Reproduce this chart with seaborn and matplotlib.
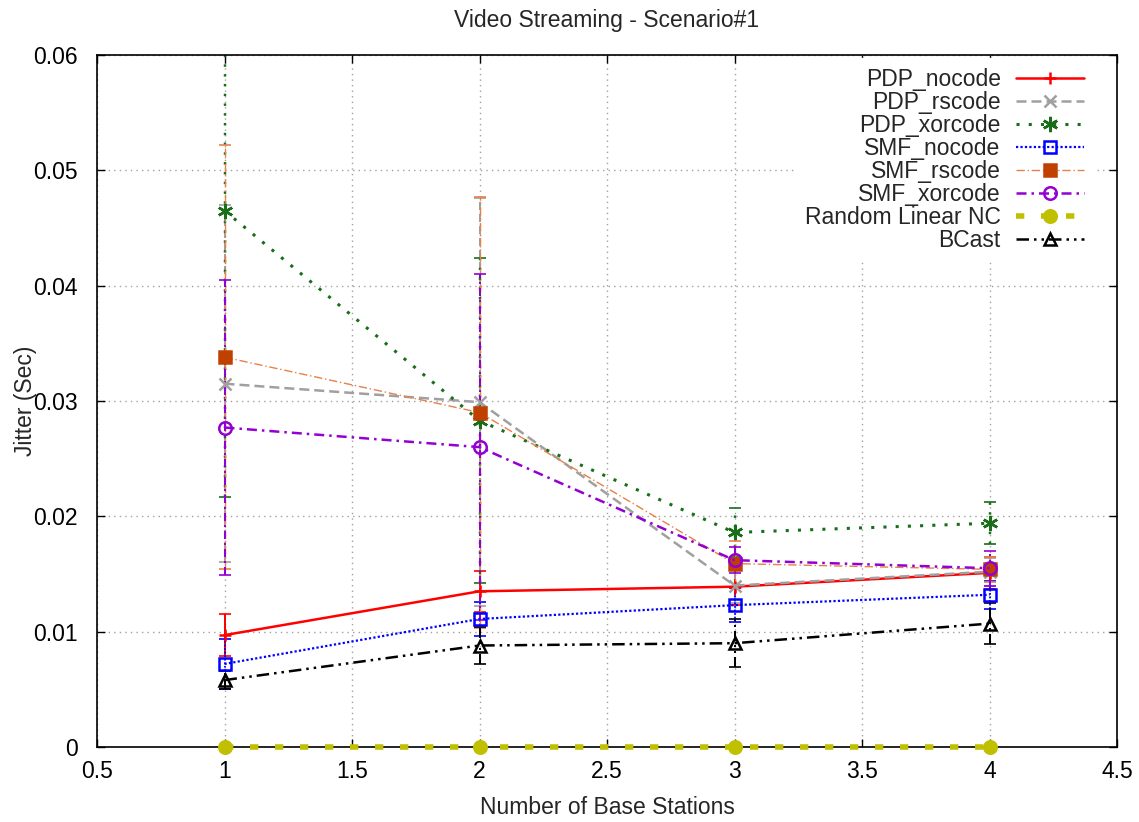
import matplotlib
matplotlib.use("Agg")
import matplotlib.pyplot as plt
import seaborn as sns
import numpy as np
from matplotlib.ticker import FuncFormatter, MultipleLocator

x = [1, 2, 3, 4]
labels = ["PDP_nocode", "PDP_rscode", "PDP_xorcode", "SMF_nocode",
          "SMF_rscode", "SMF_xorcode", "Random Linear NC", "BCast"]
pdp_nocode = [0.0097, 0.0135, 0.0139, 0.0151]
pdp_nocode_err = [0.0018, 0.0018, 0.0016, 0.0014]
pdp_rscode = [0.0315, 0.0299, 0.0140, 0.0152]
pdp_rscode_err = [0.0155, 0.0177, 0.0015, 0.0012]
pdp_xorcode = [0.0465, 0.0283, 0.0186, 0.0194]
pdp_xorcode_err = [0.0248, 0.0141, 0.0021, 0.0018]
smf_nocode = [0.0072, 0.0111, 0.0123, 0.0132]
smf_nocode_err = [0.0022, 0.0015, 0.0015, 0.0012]
smf_rscode = [0.0338, 0.0290, 0.0159, 0.0154]
smf_rscode_err = [0.0184, 0.0187, 0.0020, 0.0011]
smf_xorcode = [0.0277, 0.0260, 0.0162, 0.0155]
smf_xorcode_err = [0.0128, 0.0150, 0.0011, 0.0015]
rlnc = [0.0, 0.0, 0.0, 0.0]
rlnc_err = [0.0, 0.0, 0.0, 0.0]
bcast = [0.0058, 0.0088, 0.0090, 0.0107]
bcast_err = [0.0008, 0.0016, 0.0021, 0.0018]

series = [pdp_nocode, pdp_rscode, pdp_xorcode, smf_nocode,
          smf_rscode, smf_xorcode, rlnc, bcast]
errors = [pdp_nocode_err, pdp_rscode_err, pdp_xorcode_err, smf_nocode_err,
          smf_rscode_err, smf_xorcode_err, rlnc_err, bcast_err]

styles = [
    dict(color="#ff0000", ls="-", lw=1.8, marker="+", ms=9, mfc="none", mec="#ff0000"),
    dict(color="#a0a0a0", ls=(0, (4, 2)), lw=1.8, marker="x", ms=8, mfc="none", mec="#a0a0a0"),
    dict(color="#1a6e1a", ls=(0, (1, 3)), lw=2.2, marker=(6, 2, 0), ms=11, mfc="none", mec="#1a6e1a"),
    dict(color="#0000ff", ls=(0, (1, 1)), lw=1.6, marker="s", ms=9, mfc="none", mec="#0000ff"),
    dict(color="#e8804a", ls=(0, (6, 2, 1, 2)), lw=1.0, marker="s", ms=8, mfc="#c04000", mec="#c04000"),
    dict(color="#9400d3", ls=(0, (4, 2, 1, 2)), lw=1.8, marker="o", ms=9, mfc="none", mec="#9400d3"),
    dict(color="#c0c000", ls=(0, (1.5, 3)), lw=4.0, marker="o", ms=9, mfc="#c0c000", mec="#c0c000"),
    dict(color="#000000", ls=(0, (5, 2, 1, 2, 1, 2)), lw=1.8, marker="^", ms=9, mfc="none", mec="#000000"),
]

sns.set_style("ticks")
plt.rcParams["font.family"] = ["Liberation Sans", "DejaVu Sans"]

FS = 16.5

fig = plt.figure(figsize=(11.39, 8.22), dpi=100)
ax = fig.add_axes([97 / 1139, 75 / 822, (1117 - 97) / 1139, (747 - 55) / 822])

for lab, y, e, st in zip(labels, series, errors, styles):
    eb = ax.errorbar(x, y, yerr=e, fmt="none", ecolor=st["color"],
                     elinewidth=max(st["lw"] * 0.8, 1.0), capsize=4,
                     capthick=1.2, zorder=2)
    for lc in eb[2]:
        lc.set_linestyle(st["ls"])
    sns.lineplot(x=x, y=y, ax=ax, color=st["color"], linestyle=st["ls"],
                 linewidth=st["lw"], marker=st["marker"], markersize=st["ms"],
                 markerfacecolor=st["mfc"], markeredgecolor=st["mec"],
                 markeredgewidth=1.8, label=lab, errorbar=None, zorder=3,
                 clip_on=False)

ax.set_xlim(0.5, 4.5)
ax.set_ylim(0, 0.06)
ax.xaxis.set_major_locator(MultipleLocator(0.5))
ax.yaxis.set_major_locator(MultipleLocator(0.01))
ax.xaxis.set_major_formatter(FuncFormatter(lambda v, p: "%g" % v))
ax.yaxis.set_major_formatter(FuncFormatter(lambda v, p: "0" if abs(v) < 1e-12 else "%.2f" % v))
ax.tick_params(direction="in", top=True, right=True, length=6, width=1.0,
               labelsize=FS, colors="black")
ax.tick_params(axis="x", pad=9)
ax.tick_params(axis="y", pad=14)
ax.grid(True, color="#a0a0a0", linestyle=(0, (1, 3)), linewidth=1.0)
for s in ax.spines.values():
    s.set_color("black")
    s.set_linewidth(1.2)

ax.set_title("Video Streaming - Scenario#1", fontsize=FS, pad=20)
ax.set_xlabel("Number of Base Stations", fontsize=FS, labelpad=10)
ax.set_ylabel("Jitter (Sec)", fontsize=FS, labelpad=-3)

leg = ax.legend(loc="upper right", bbox_to_anchor=(0.977, 0.995), markerfirst=False,
                fontsize=FS, handlelength=3.0, handletextpad=0.65,
                labelspacing=0.0, frameon=True, fancybox=False,
                borderaxespad=0.0, borderpad=0.4)
leg.get_frame().set_facecolor("white")
leg.get_frame().set_edgecolor("white")
leg.get_frame().set_alpha(1.0)

fig.savefig("out.png", dpi=100)
